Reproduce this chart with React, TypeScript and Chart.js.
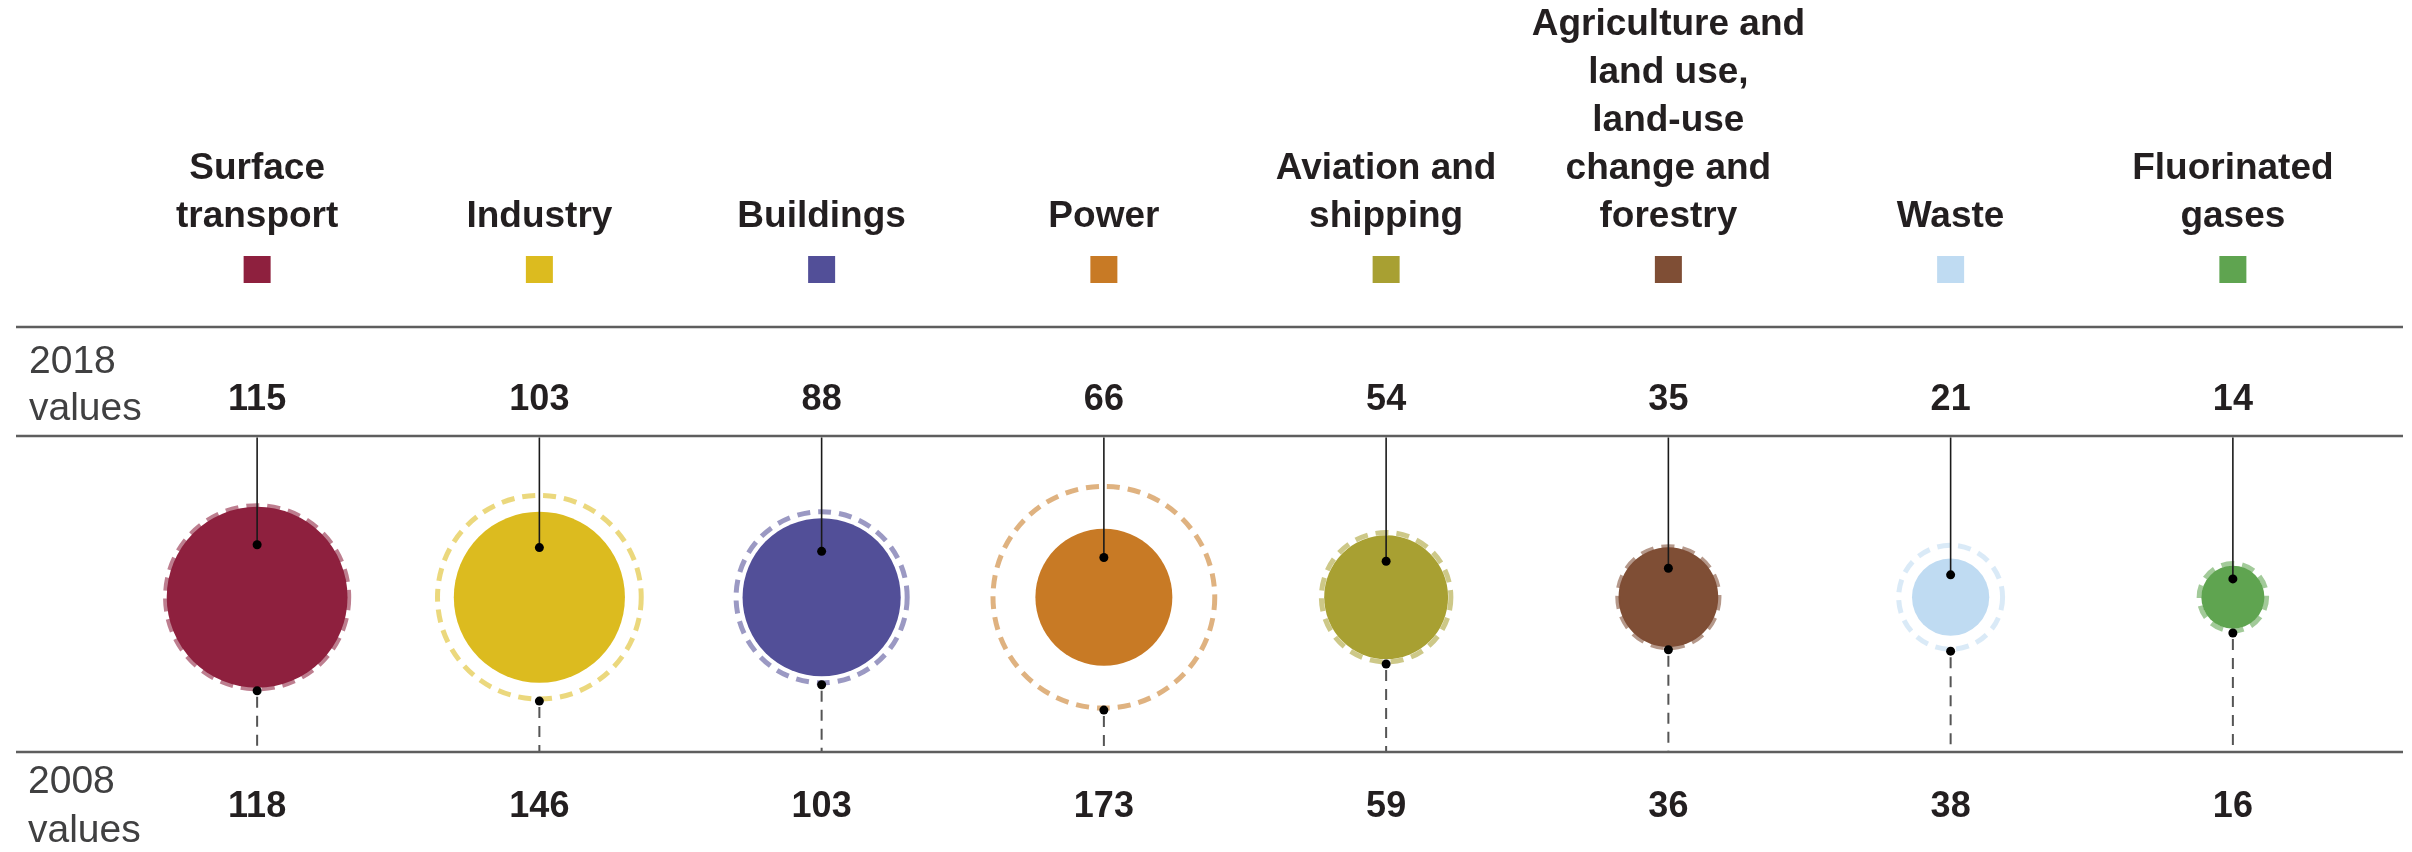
import React, { useEffect, useRef } from 'react';
import { Chart, registerables } from 'chart.js';

Chart.register(...registerables);

// ---- data ----
const categories: string[][] = [
  ['Surface', 'transport'],
  ['Industry'],
  ['Buildings'],
  ['Power'],
  ['Aviation and', 'shipping'],
  ['Agriculture and', 'land use,', 'land-use', 'change and', 'forestry'],
  ['Waste'],
  ['Fluorinated', 'gases'],
];
const values2018 = [115, 103, 88, 66, 54, 35, 21, 14];
const values2008 = [118, 146, 103, 173, 59, 36, 38, 16];
const colors = ['#8e203e', '#dcbb1f', '#524f98', '#c87a25', '#a8a032', '#7f4e35', '#bfdbf2', '#5fa450'];
const rowLabel2018 = ['2018', 'values'];
const rowLabel2008 = ['2008', 'values'];

// ---- styling / layout constants ----
const W = 2412;
const H = 852;
const RADIUS_K = 8.43; // px per sqrt(unit) -> area proportional
const HEADER_RULE_Y = 327;
const RULE_LEFT = 16;
const RULE_RIGHT = 2403;
const LABEL_LAST_BASELINE = 227;
const LABEL_LINE_H = 48;
const SWATCH_TOP = 256;
const SWATCH = 27;
const NUM18_BASELINE = 410;
const NUM08_BASELINE = 817;
const TEXT_DARK = '#231f20';
const TEXT_ROW = '#404041';
const FONT = '"Liberation Sans", Arial, sans-serif';

function withAlpha(hex: string, a: number) {
  const n = parseInt(hex.slice(1), 16);
  return `rgba(${(n >> 16) & 255},${(n >> 8) & 255},${n & 255},${a})`;
}

const overlayPlugin = {
  id: 'overlay',
  beforeDatasetDraw(chart: any, args: any) {
    if (args.index === 0) chart.ctx.setLineDash([13, 8]);
  },
  afterDatasetDraw(chart: any, args: any) {
    if (args.index === 0) chart.ctx.setLineDash([]);
  },
  afterDraw(chart: any) {
    const ctx: CanvasRenderingContext2D = chart.ctx;
    const xs = chart.scales.x;
    const { top, bottom } = chart.chartArea;
    const meta08 = chart.getDatasetMeta(0);
    const meta18 = chart.getDatasetMeta(1);
    ctx.save();

    // rules
    ctx.setLineDash([]);
    ctx.strokeStyle = '#5e5e5e';
    ctx.lineWidth = 2.5;
    [HEADER_RULE_Y, top, bottom].forEach((y) => {
      ctx.beginPath();
      ctx.moveTo(RULE_LEFT, y);
      ctx.lineTo(RULE_RIGHT, y);
      ctx.stroke();
    });

    // category labels + swatches
    ctx.textAlign = 'center';
    ctx.textBaseline = 'alphabetic';
    categories.forEach((lines, i) => {
      const x = xs.getPixelForValue(i);
      ctx.fillStyle = TEXT_DARK;
      ctx.font = `bold 37px ${FONT}`;
      lines.forEach((t, j) => {
        ctx.fillText(t, x, LABEL_LAST_BASELINE - (lines.length - 1 - j) * LABEL_LINE_H);
      });
      ctx.fillStyle = colors[i];
      ctx.fillRect(x - SWATCH / 2, SWATCH_TOP, SWATCH, SWATCH);
      // values
      ctx.fillStyle = TEXT_DARK;
      ctx.font = `bold 36px ${FONT}`;
      ctx.fillText(String(values2018[i]), x, NUM18_BASELINE);
      ctx.fillText(String(values2008[i]), x, NUM08_BASELINE);
    });

    // row labels
    ctx.textAlign = 'left';
    ctx.fillStyle = TEXT_ROW;
    ctx.font = `39px ${FONT}`;
    ctx.fillText(rowLabel2018[0], 29, 373);
    ctx.fillText(rowLabel2018[1], 29, 420);
    ctx.fillText(rowLabel2008[0], 28, 793);
    ctx.fillText(rowLabel2008[1], 28, 842);

    // connectors
    meta18.data.forEach((el: any, i: number) => {
      const el08 = meta08.data[i];
      const x = el.x;
      const cy = el.y;
      const r18 = el.options.radius;
      const r08 = el08.options.radius;
      const topDot = cy - 0.58 * r18;
      const botDot = cy + r08 + 2;
      ctx.setLineDash([]);
      ctx.strokeStyle = '#1a1a1a';
      ctx.lineWidth = 1.6;
      ctx.beginPath();
      ctx.moveTo(x, top + 1.5);
      ctx.lineTo(x, topDot);
      ctx.stroke();
      ctx.fillStyle = '#000';
      ctx.beginPath();
      ctx.arc(x, topDot, 4.5, 0, Math.PI * 2);
      ctx.fill();
      ctx.beginPath();
      ctx.arc(x, botDot, 4.5, 0, Math.PI * 2);
      ctx.fill();
      ctx.strokeStyle = '#555';
      ctx.lineWidth = 2;
      ctx.setLineDash([11, 8]);
      ctx.beginPath();
      ctx.moveTo(x, botDot + 6);
      ctx.lineTo(x, bottom - 1);
      ctx.stroke();
    });
    ctx.restore();
  },
};

export default function App() {
  const ref = useRef<HTMLCanvasElement | null>(null);
  useEffect(() => {
    document.body.style.margin = '0';
    document.body.style.overflow = 'hidden';
    const canvas = ref.current;
    if (!canvas) return;
    const chart = new Chart(canvas, {
      type: 'bubble',
      data: {
        datasets: [
          {
            label: '2008',
            data: values2008.map((v, i) => ({ x: i, y: 0, r: RADIUS_K * Math.sqrt(v) })),
            backgroundColor: 'rgba(0,0,0,0)',
            borderColor: colors.map((c) => withAlpha(c, 0.58)),
            borderWidth: 5,
            clip: false as any,
          },
          {
            label: '2018',
            data: values2018.map((v, i) => ({ x: i, y: 0, r: RADIUS_K * Math.sqrt(v) })),
            backgroundColor: colors,
            borderWidth: 0,
            clip: false as any,
          },
        ],
      },
      options: {
        animation: false,
        responsive: false,
        devicePixelRatio: 1,
        events: [],
        layout: { autoPadding: false, padding: { left: 116, right: 38, top: 436, bottom: 100 } },
        scales: {
          x: { type: 'linear', min: -0.5, max: 7.5, display: false },
          y: { type: 'linear', min: -0.96, max: 1, display: false },
        },
        plugins: { legend: { display: false }, tooltip: { enabled: false } },
      },
      plugins: [overlayPlugin],
    });
    return () => chart.destroy();
  }, []);
  return (
    <div style={{ width: W, height: H, background: '#fff' }}>
      <canvas ref={ref} width={W} height={H} />
    </div>
  );
}
